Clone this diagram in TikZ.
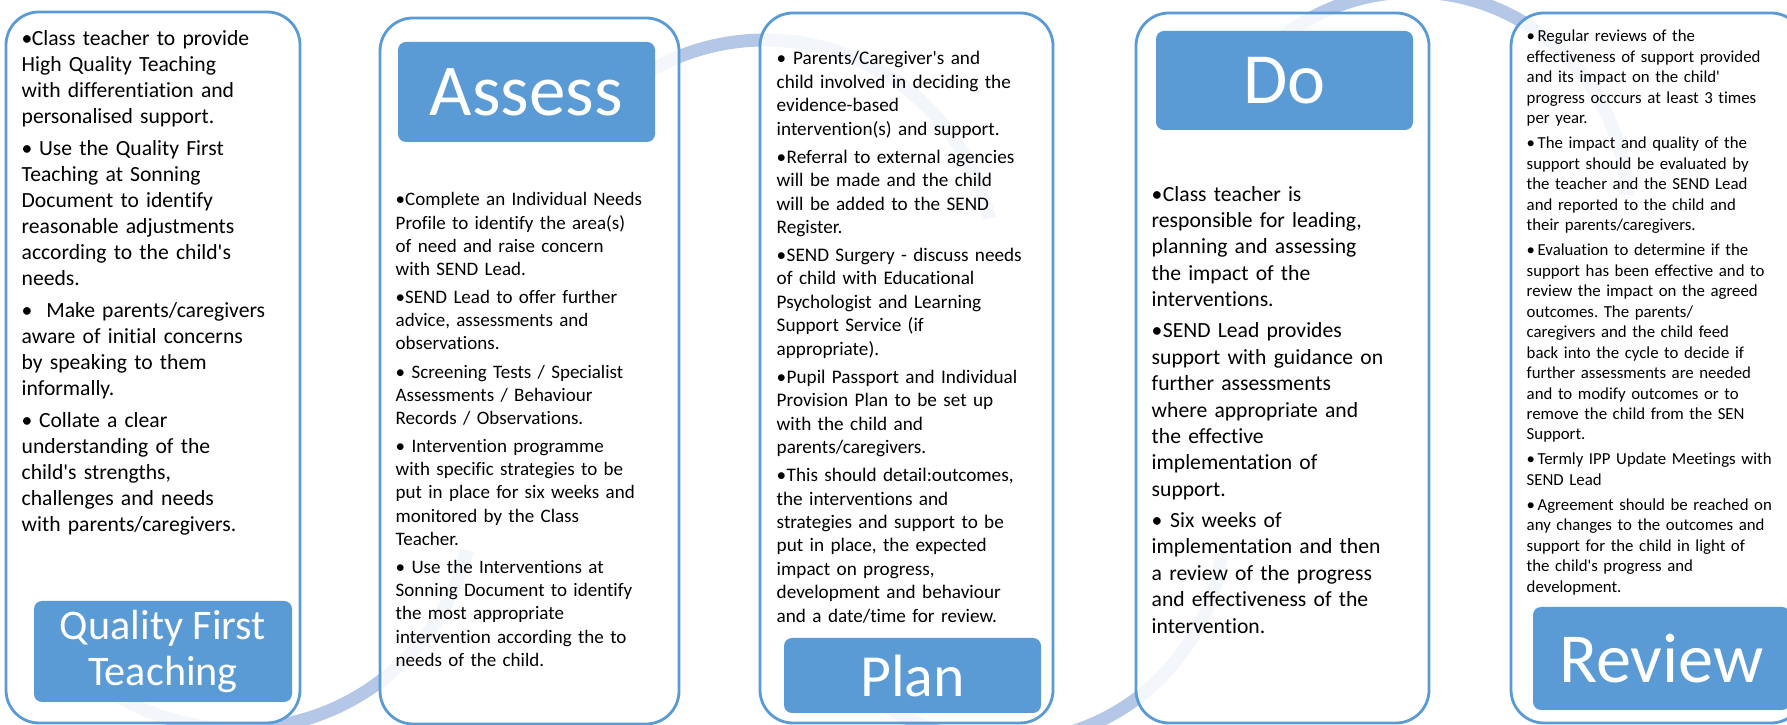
\documentclass[tikz,border=0pt]{standalone}
\usepackage{fontspec}
\setmainfont{Carlito}[Ligatures=NoCommon]
\definecolor{accent}{RGB}{91,155,213}
\definecolor{arcblue}{RGB}{180,199,231}
\newlength{\bhang}
\newcommand{\bpoint}{\par\hangindent=\bhang\hangafter=1\noindent\makebox[\bhang][l]{\textbullet}}
\newcommand{\panelfont}[4]{\fontsize{#1}{#2}\selectfont\frenchspacing\setlength{\bhang}{#3}\setlength{\parskip}{#4}}
\newcommand{\apos}{\textquotesingle}

\begin{document}
\begin{tikzpicture}[
    panel/.style={draw=accent, line width=0.8pt, fill=white, fill opacity=0.85, rounded corners=0.33cm, minimum width=2.93cm, minimum height=7.1cm},
    head/.style={fill=accent, text=white, rounded corners=0.08cm, inner sep=0pt, align=center, minimum width=2.57cm},
    body/.style={anchor=north west, inner sep=0pt, align=left, text width=3.4cm},
    cyclearc/.style={arcblue, line width=0.13cm}
]
\useasboundingbox (0,0) rectangle (17.87,7.25);
\clip (0,0) rectangle (17.87,7.25);

% the wave behind the boxes
\draw[cyclearc] (2.38,2.32) ++(-125:2.36) arc[start angle=-125, end angle=-14, radius=2.36];
\draw[cyclearc] (7.65,4.55) ++(140:2.30) arc[start angle=140, end angle=13, radius=2.30];
\draw[cyclearc] (10.06,2.01) ++(-125:2.18) arc[start angle=-125, end angle=-7, radius=2.18];
\draw[cyclearc] (14.135,5.19) ++(140:2.14) arc[start angle=140, end angle=3, radius=2.14];

% boxes
\node[panel, minimum width=2.94cm, minimum height=7.11cm] (qftbox) at (1.53,3.575) {};
\node[panel, minimum width=2.99cm, minimum height=7.06cm] (assessbox) at (5.295,3.54) {};
\node[panel] (planbox) at (9.065,3.57) {};
\node[panel] (dobox) at (12.825,3.57) {};
\node[panel] (reviewbox) at (16.575,3.57) {};

% headings
\node[head, minimum width=2.58cm, minimum height=1.01cm, font=\fontsize{12}{13.1}\selectfont] (qfthead) at (1.63,0.735) {Quality First\\Teaching};
\node[head, minimum height=1.0cm, font=\fontsize{20.8}{24}\selectfont] (assesshead) at (5.265,6.33) {Assess};
\node[head, minimum height=0.75cm, font=\fontsize{17}{19}\selectfont] (planhead) at (9.125,0.495) {Plan};
\node[head, minimum height=0.99cm, font=\fontsize{20.5}{24}\selectfont] (dohead) at (12.845,6.445) {Do};
\node[head, minimum height=1.03cm, font=\fontsize{20}{24}\selectfont] (reviewhead) at (16.615,0.665) {Review};

% texts
\node[body, font=\panelfont{6.15pt}{7.43pt}{2.9pt}{1.56pt}] (qfttext) at (0.21,7.12) {%
\bpoint Class teacher to provide\\ High Quality Teaching\\ with differentiation and\\ personalised support.
\bpoint\ Use the Quality First\\ Teaching at Sonning\\ Document to identify\\ reasonable adjustments\\ according to the child\apos s\\ needs.
\bpoint\ \ Make parents/caregivers\\ aware of initial concerns\\ by speaking to them\\ informally.
\bpoint\ Collate a clear\\ understanding of the\\ child\apos s strengths,\\ challenges and needs\\ with parents/caregivers.};

\node[body, font=\panelfont{5.41pt}{6.6pt}{2.7pt}{1.4pt}] (assesstext) at (3.95,5.48) {%
\bpoint Complete an Individual Needs\\ Profile to identify the area(s)\\ of need and raise concern\\ with SEND Lead.
\bpoint SEND Lead to offer further\\ advice, assessments and\\ observations.
\bpoint\ Screening Tests / Specialist\\ Assessments / Behaviour\\ Records / Observations.
\bpoint\ Intervention programme\\ with specific strategies to be\\ put in place for six weeks and\\ monitored by the Class\\ Teacher.
\bpoint\ Use the Interventions at\\ Sonning Document to identify\\ the most appropriate\\ intervention according the to\\ needs of the child.};

\node[body, font=\panelfont{5.46pt}{6.66pt}{2.85pt}{1.35pt}] (plantext) at (7.76,6.89) {%
\bpoint\ Parents/Caregiver\apos s and\\ child involved in deciding the\\ evidence-based\\ intervention(s) and support.
\bpoint Referral to external agencies\\ will be made and the child\\ will be added to the SEND\\ Register.
\bpoint SEND Surgery - discuss needs\\ of child with Educational\\ Psychologist and Learning\\ Support Service (if\\ appropriate).
\bpoint Pupil Passport and Individual\\ Provision Plan to be set up\\ with the child and\\ parents/caregivers.
\bpoint This should detail:outcomes,\\ the interventions and\\ strategies and support to be\\ put in place, the expected\\ impact on progress,\\ development and behaviour\\ and a date/time for review.};

\node[body, font=\panelfont{6.15pt}{7.51pt}{3.2pt}{1.4pt}] (dotext) at (11.51,5.56) {%
\bpoint Class teacher is\\ responsible for leading,\\ planning and assessing\\ the impact of the\\ interventions.
\bpoint SEND Lead provides\\ support with guidance on\\ further assessments\\ where appropriate and\\ the effective\\ implementation of\\ support.
\bpoint\ Six weeks of\\ implementation and then\\ a review of the progress\\ and effectiveness of the\\ intervention.};

\node[body, font=\panelfont{4.78pt}{5.83pt}{3.1pt}{1.28pt}] (reviewtext) at (15.26,7.09) {%
\bpoint Regular reviews of the\\ effectiveness of support provided\\ and its impact on the child\apos\\ progress occcurs at least 3 times\\ per year.
\bpoint The impact and quality of the\\ support should be evaluated by\\ the teacher and the SEND Lead\\ and reported to the child and\\ their parents/caregivers.
\bpoint Evaluation to determine if the\\ support has been effective and to\\ review the impact on the agreed\\ outcomes. The parents/\\ caregivers and the child feed\\ back into the cycle to decide if\\ further assessments are needed\\ and to modify outcomes or to\\ remove the child from the SEN\\ Support.
\bpoint Termly IPP Update Meetings with\\ SEND Lead
\bpoint Agreement should be reached on\\ any changes to the outcomes and\\ support for the child in light of\\ the child\apos s progress and\\ development.};
\end{tikzpicture}
\end{document}
